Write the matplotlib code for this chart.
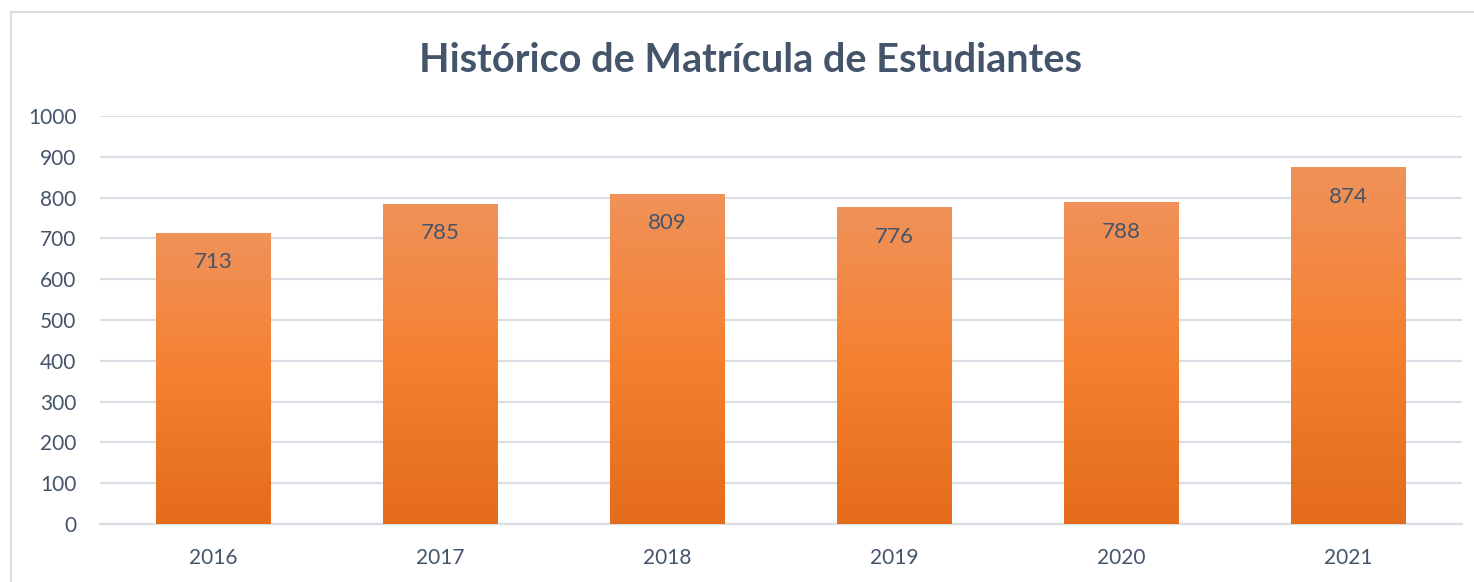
import numpy as np
import matplotlib.pyplot as plt
from matplotlib.patches import Rectangle

# 数据
years = ['2016', '2017', '2018', '2019', '2020', '2021']
matricula = [713, 785, 809, 776, 788, 874]
titulo = 'Histórico de Matrícula de Estudiantes'

texto_color = '#44546A'
grid_color = '#D9DDE4'

plt.rcParams['font.family'] = ['Lato', 'DejaVu Sans']

fig = plt.figure(figsize=(14.74, 5.82), dpi=100)
ax = fig.add_axes([100 / 1474, 58 / 582, 1362 / 1474, 408 / 582])

# 渐变填充 (上浅下深)
cmap_colors = np.array([
    [0xE4, 0x6C, 0x1A],
    [0xF5, 0x80, 0x30],
    [0xF0, 0x92, 0x5A],
]) / 255.0
t = np.linspace(0, 1, 256)
grad = np.zeros((256, 1, 3))
for c in range(3):
    grad[:, 0, c] = np.interp(t, [0, 0.5, 1], cmap_colors[:, c])

x = np.arange(len(years))
width = 0.506
bars = ax.bar(x, matricula, width=width, color='none', zorder=3)
for b, v in zip(bars, matricula):
    x0, w = b.get_x(), b.get_width()
    im = ax.imshow(grad, extent=[x0, x0 + w, 0, v], origin='lower',
                   aspect='auto', zorder=3, interpolation='bilinear')
    im.set_clip_path(Rectangle((x0, 0), w, v, transform=ax.transData))
    ax.text(x0 + w / 2, v - 72, str(v), ha='center', va='center',
            fontsize=16, color=texto_color, zorder=4)

ax.set_xlim(-0.5, len(years) - 0.5)
ax.set_ylim(0, 1000)
ax.set_yticks(range(0, 1001, 100))
ax.set_xticks(x)
ax.set_xticklabels(years)
ax.yaxis.grid(True, color=grid_color, linewidth=1.6, zorder=0)
ax.set_axisbelow(True)
for s in ['top', 'right', 'left']:
    ax.spines[s].set_visible(False)
ax.spines['bottom'].set_color(grid_color)
ax.spines['bottom'].set_linewidth(1.6)
ax.tick_params(length=0, labelsize=15, colors=texto_color)
ax.tick_params(axis='x', pad=17)
ax.tick_params(axis='y', pad=17)

fig.text(751 / 1474, 1 - 60 / 582, titulo, ha='center', va='center',
         fontsize=28.5, fontweight='bold', color=texto_color)

# 外框
fig.patches.append(Rectangle((11 / 1474, -0.1), 1.2, 1 - 12 / 582 + 0.1,
                             transform=fig.transFigure, fill=False,
                             edgecolor='#D9DDE4', linewidth=1.5))

fig.savefig('out.png', dpi=100)
